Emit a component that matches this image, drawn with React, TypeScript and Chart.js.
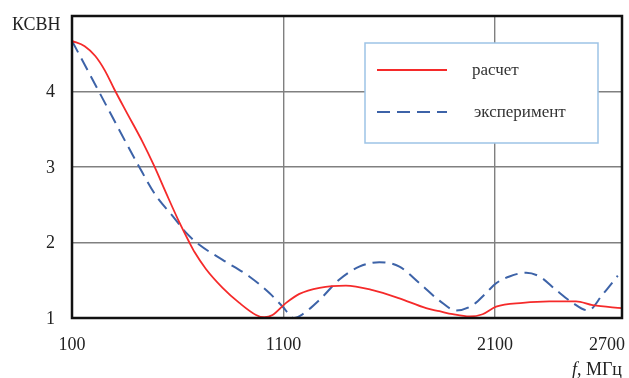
import React, { useEffect, useRef } from "react";
import { Chart, registerables } from "chart.js";

Chart.register(...registerables);

const redFreq = [100, 160, 210, 255, 300, 355, 434, 489, 544, 607, 655, 680, 733, 812, 891, 970, 1009, 1048, 1112, 1175, 1270, 1395, 1521, 1648, 1774, 1837, 1900, 1979, 2041, 2105, 2231, 2357, 2483, 2561, 2700];
const redVswr = [4.67, 4.6, 4.47, 4.28, 4.03, 3.74, 3.33, 3.01, 2.66, 2.27, 2.0, 1.87, 1.65, 1.4, 1.2, 1.04, 1.01, 1.04, 1.2, 1.32, 1.4, 1.43, 1.37, 1.26, 1.13, 1.09, 1.05, 1.02, 1.05, 1.15, 1.2, 1.22, 1.22, 1.17, 1.13];

const blueFreq = [100, 229, 418, 497, 576, 639, 702, 812, 938, 1033, 1096, 1150, 1190, 1270, 1364, 1458, 1553, 1648, 1743, 1837, 1916, 1994, 2057, 2105, 2168, 2247, 2310, 2389, 2467, 2540, 2608, 2680];
const blueVswr = [4.67, 3.99, 3.0, 2.62, 2.35, 2.13, 1.97, 1.77, 1.55, 1.33, 1.15, 1.0, 1.05, 1.24, 1.51, 1.68, 1.74, 1.68, 1.46, 1.23, 1.1, 1.17, 1.33, 1.46, 1.55, 1.6, 1.55, 1.37, 1.2, 1.1, 1.31, 1.56];

const xTicks = [100, 1100, 2100, 2700];
const yTicks = [1, 2, 3, 4, 5];
const yLabels = ["1", "2", "3", "4", ""];
const seriesLabels = ["расчет", "эксперимент"];
const yTitle = "КСВН";

const FONT = "'Liberation Serif', 'DejaVu Serif', serif";

const decorPlugin = {
  id: "decor",
  afterDraw(chart: any) {
    const ctx = chart.ctx;
    const a = chart.chartArea;
    const xs = chart.scales.x;
    const ys = chart.scales.y;
    ctx.save();
    ctx.strokeStyle = "#111";
    ctx.lineWidth = 2.5;
    ctx.strokeRect(a.left, a.top, a.right - a.left, a.bottom - a.top);
    ctx.font = `18px ${FONT}`;
    ctx.fillStyle = "#222";
    ctx.textBaseline = "middle";
    ctx.textAlign = "center";
    xTicks.forEach((v) => {
      const t = String(v);
      const w = ctx.measureText(t).width;
      let px = xs.getPixelForValue(v);
      if (px + w / 2 > chart.width - 4) px = chart.width - 4 - w / 2;
      ctx.fillText(t, px, 345);
    });
    ctx.textAlign = "right";
    yTicks.forEach((v, i) => {
      ctx.fillText(yLabels[i], a.left - 17, ys.getPixelForValue(v) + 1);
    });
    ctx.font = `18px ${FONT}`;
    ctx.textAlign = "left";
    ctx.fillText(yTitle, 12, 25);
    ctx.font = `italic 18px ${FONT}`;
    const fW = ctx.measureText("f").width;
    ctx.font = `18px ${FONT}`;
    const rest = ", МГц";
    const rW = ctx.measureText(rest).width;
    const startX = 622 - rW - fW;
    ctx.font = `italic 18px ${FONT}`;
    ctx.fillText("f", startX, 370);
    ctx.font = `18px ${FONT}`;
    ctx.fillText(rest, startX + fW, 370);
    const bx = 365, by = 43, bw = 233, bh = 100;
    ctx.fillStyle = "#fff";
    ctx.fillRect(bx, by, bw, bh);
    ctx.strokeStyle = "#9dc3e6";
    ctx.lineWidth = 1.5;
    ctx.strokeRect(bx, by, bw, bh);
    const rows = [70, 112];
    chart.data.datasets.forEach((d: any, i: number) => {
      ctx.strokeStyle = d.borderColor;
      ctx.lineWidth = d.borderWidth;
      ctx.setLineDash(d.borderDash || []);
      ctx.beginPath();
      ctx.moveTo(377, rows[i]);
      ctx.lineTo(447, rows[i]);
      ctx.stroke();
      ctx.setLineDash([]);
      ctx.fillStyle = "#333";
      ctx.font = `17px ${FONT}`;
      ctx.textAlign = "left";
      ctx.fillText(d.label, i === 0 ? 472 : 474, rows[i] + 1);
    });
    ctx.restore();
  },
};

export default function App() {
  const ref = useRef<HTMLCanvasElement | null>(null);
  useEffect(() => {
    document.body.style.margin = "0";
    const chart = new Chart(ref.current!, {
      type: "line",
      data: {
        datasets: [
          {
            label: seriesLabels[0],
            data: redFreq.map((f, i) => ({ x: f, y: redVswr[i] })),
            borderColor: "#f52a2a",
            borderWidth: 1.8,
            pointRadius: 0,
            cubicInterpolationMode: "monotone",
            fill: false,
          },
          {
            label: seriesLabels[1],
            data: blueFreq.map((f, i) => ({ x: f, y: blueVswr[i] })),
            borderColor: "#3d63a8",
            borderWidth: 2,
            borderDash: [13, 7],
            pointRadius: 0,
            cubicInterpolationMode: "monotone",
            fill: false,
          },
        ],
      },
      options: {
        animation: false,
        responsive: true,
        maintainAspectRatio: false,
        layout: { padding: { top: 16, right: 7, left: 0, bottom: 0 } },
        plugins: { legend: { display: false }, tooltip: { enabled: false } },
        scales: {
          x: {
            type: "linear",
            min: 100,
            max: 2700,
            afterBuildTicks: (s: any) => {
              s.ticks = xTicks.map((v) => ({ value: v }));
            },
            afterFit: (s: any) => {
              s.height = 60;
            },
            ticks: { display: false },
            grid: { color: "#808080", lineWidth: 1.4, drawTicks: false },
            border: { display: false },
          },
          y: {
            min: 1,
            max: 5,
            afterBuildTicks: (s: any) => {
              s.ticks = yTicks.map((v) => ({ value: v }));
            },
            afterFit: (s: any) => {
              s.width = 72;
            },
            ticks: { display: false },
            grid: { color: "#808080", lineWidth: 1.4, drawTicks: false },
            border: { display: false },
          },
        },
      },
      plugins: [decorPlugin],
    });
    return () => chart.destroy();
  }, []);
  return (
    <div style={{ position: "absolute", left: 0, top: 0, width: 629, height: 378 }}>
      <canvas ref={ref} />
    </div>
  );
}
